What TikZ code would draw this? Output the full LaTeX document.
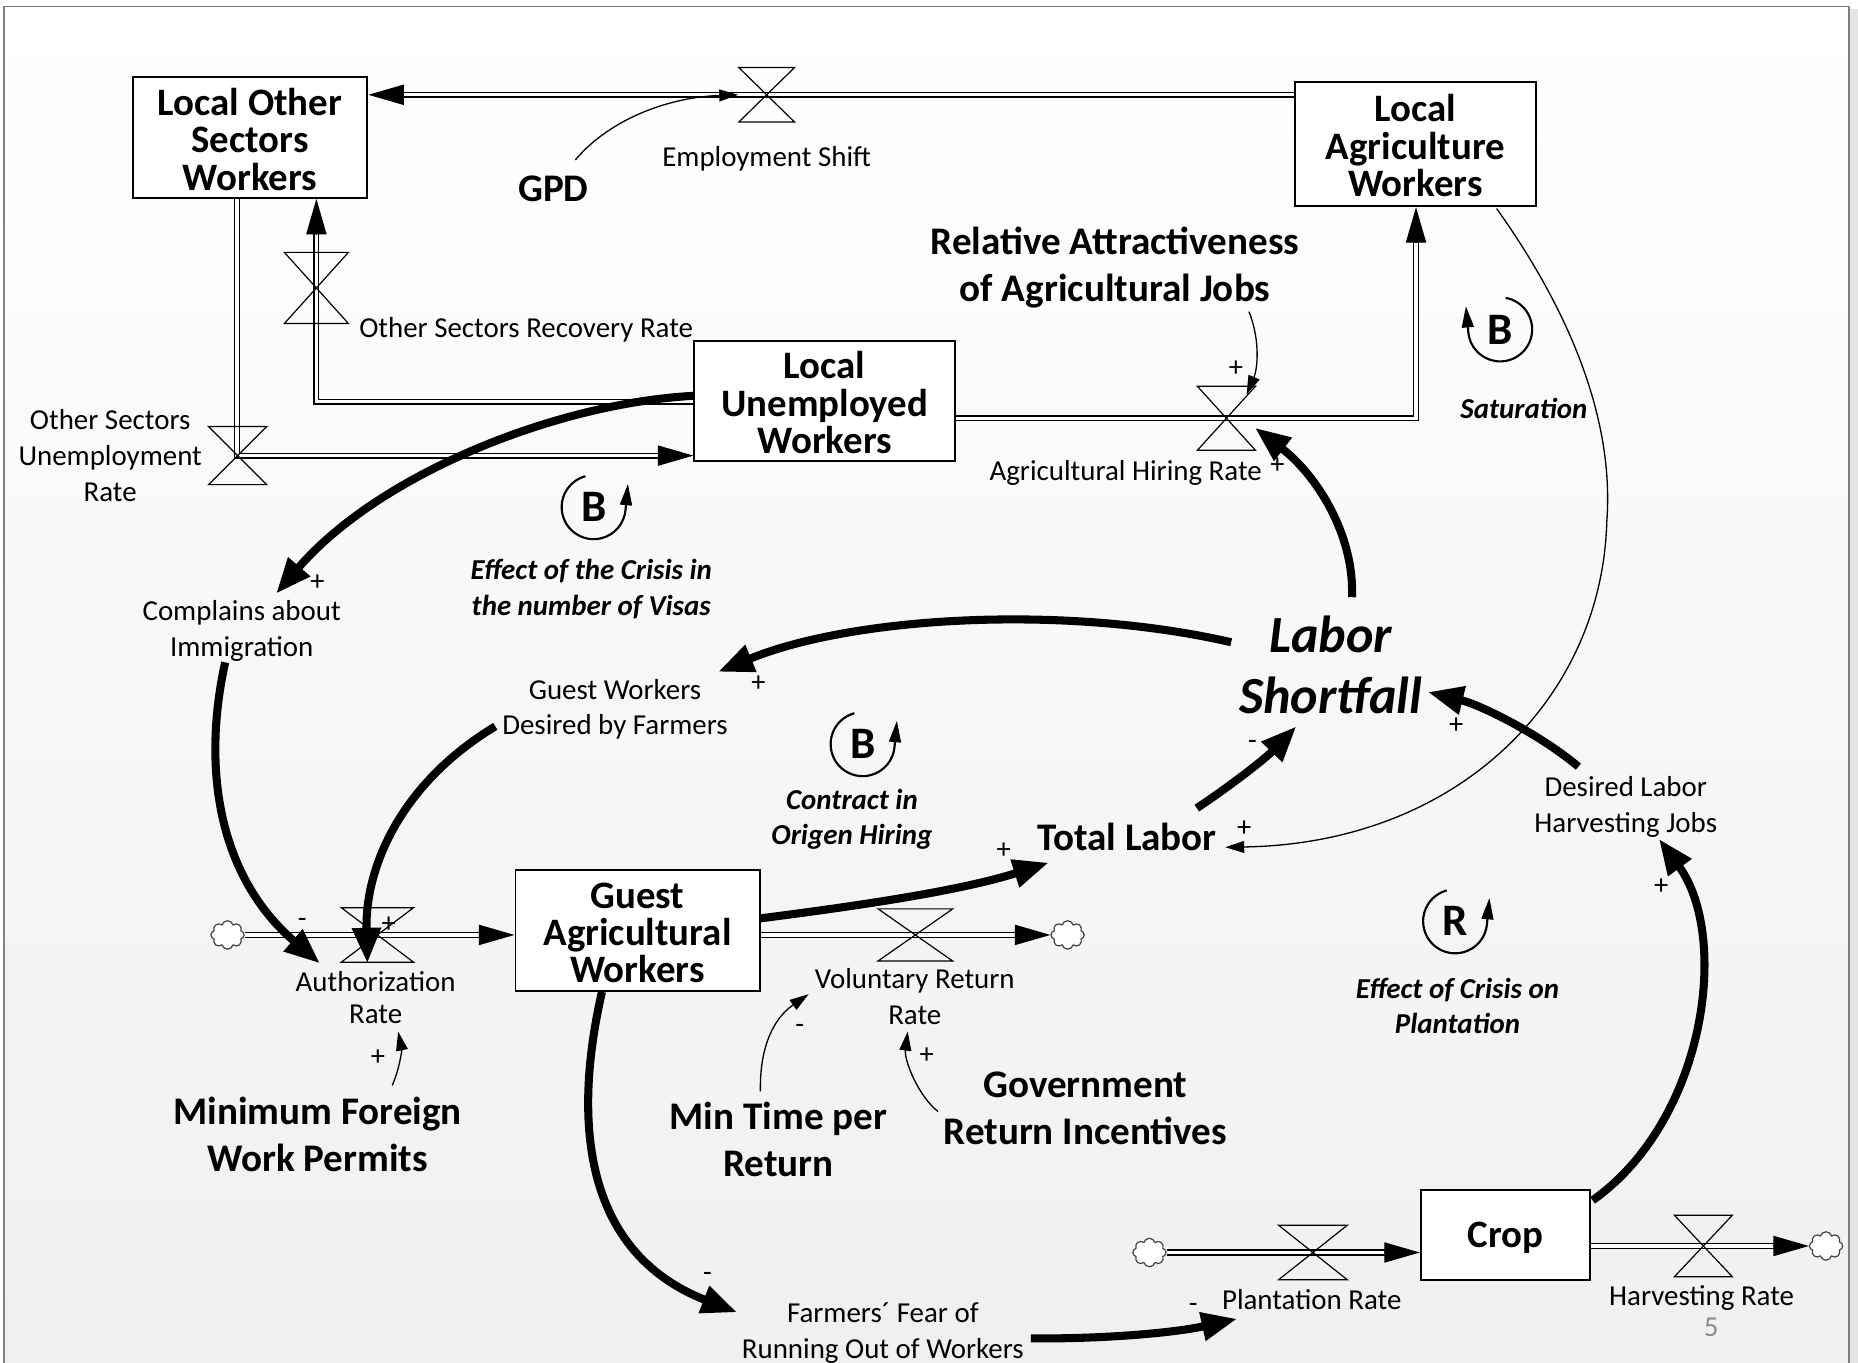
\documentclass[tikz,border=0pt]{standalone}
\usepackage{fontspec}
\setmainfont{Carlito}
\usetikzlibrary{arrows.meta,calc,shapes.symbols}
\pgfdeclarelayer{back}
\pgfdeclarelayer{pipes}
\pgfsetlayers{back,pipes,main}
\newcommand\fReg{\fontsize{12.2}{15}\selectfont}
\newcommand\fRegT{\fontsize{12.2}{13.5}\selectfont}
\newcommand\fStock{\bfseries\fontsize{16.4}{15.8}\selectfont}
\newcommand\fAux{\bfseries\fontsize{16.5}{19.8}\selectfont}
\newcommand\fShort{\bfseries\itshape\fontsize{22}{26}\selectfont}
\newcommand\fLoop{\bfseries\itshape\fontsize{12.2}{15}\selectfont}
\newcommand\fLetter{\bfseries\fontsize{19}{19}\selectfont}
\newcommand\fSign{\fontsize{12}{12}\selectfont}
\newcommand\stk{\rule{0pt}{13pt}}
\begin{document}
\begin{tikzpicture}[x=0.5pt,y=-0.5pt,
  stock/.style={draw, line width=0.8pt, fill=white, inner sep=0pt, align=center, font=\fStock},
  lab/.style={inner sep=0pt, align=center, font=\fReg},
  aux/.style={inner sep=0pt, align=center, font=\fAux},
  looplab/.style={inner sep=0pt, align=center, font=\fLoop},
  sgn/.style={inner sep=0pt, font=\fSign},
  pipe/.style={draw=black, line width=0.6pt, double=white, double distance=1.4pt},
  pipetip/.style={line width=0.6pt, -{Triangle[length=15pt,width=8.5pt]}},
  valvestyle/.style={draw=black, line width=0.5pt, line join=miter},
  link/.style={line width=3.4pt, -{Triangle[length=15pt,width=11.5pt]}},
  thinlink/.style={line width=0.55pt, -{Triangle[length=8pt,width=5pt]}},
  looparrow/.style={line width=0.9pt, -{Triangle[length=9pt,width=5pt]}},
  sink/.style={cloud, cloud puffs=8, draw=black!75, fill=white, line width=0.5pt, minimum width=14pt, minimum height=12pt, inner sep=0pt},
  pics/valve/.style args={#1/#2}{code={\draw[valvestyle] (-#1/2,-#2/2) -- (#1/2,-#2/2) -- (-#1/2,#2/2) -- (#1/2,#2/2) -- cycle;}}
]
\useasboundingbox (0,0) rectangle (1568,1150);
\begin{pgfonlayer}{back}
\fill[white] (0,0) rectangle (1568,1150);
\shade[top color=white, bottom color=black!6] (3.4,5.5) rectangle (1560.4,1150);
\fill[black!10] (1561.4,8) rectangle (1568,1150);
\draw[black!50, line width=0.7pt] (3.4,1152) -- (3.4,5.5) -- (1560.4,5.5) -- (1560.4,1152);
\end{pgfonlayer}

% stocks
\node[stock, minimum width=99pt, minimum height=51pt] (LOSW) at (211,116) {\stk Local Other\\Sectors\\Workers};
\node[stock, minimum width=101.5pt, minimum height=52.5pt] (LAW) at (1194.5,121.5) {\stk Local\\Agriculture\\Workers};
\node[stock, minimum width=110pt, minimum height=50.5pt] (LUW) at (696,338.5) {\stk Local\\Unemployed\\Workers};
\node[stock, minimum width=103pt, minimum height=51pt] (GAW) at (538,785) {\stk Guest\\Agricultural\\Workers};
\node[stock, minimum width=71.5pt, minimum height=38pt] (Crop) at (1270.5,1042) {\stk Crop};

% clouds
\node[sink] (cAR) at (192,789) {};
\node[sink] (cVRR) at (901,789) {};
\node[sink] (cPR) at (970,1057) {};
\node[sink] (cHR) at (1541,1051.5) {};

% valves
\coordinate (vES) at (647,80);
\coordinate (vOSUR) at (200.5,384.5);
\coordinate (vOSRR) at (267,243);
\coordinate (vAHR) at (1035,353);
\coordinate (vAR) at (318.5,789);
\coordinate (vVRR) at (772.5,789);
\coordinate (vPR) at (1108,1057);
\coordinate (vHR) at (1437.5,1051.5);

% labels
\node[lab] (ES) at (647,134) {Employment Shift};
\node[aux] (GPD) at (467,159) {GPD};
\node[lab] (OSRR) at (444,278) {Other Sectors Recovery Rate};
\node[lab] (OSUR) at (93,384.5) {Other Sectors\\Unemployment\\Rate};
\node[lab] (AHR) at (950,399) {Agricultural Hiring Rate};
\node[aux] (RAAJ) at (941,225.5) {Relative Attractiveness\\of Agricultural Jobs};
\node[looplab] (SAT) at (1286,345) {Saturation};
\node[looplab] (LV) at (499,497) {Effect of the Crisis in\\the number of Visas};
\node[lab] (CAI) at (204,532.5) {Complains about\\Immigration};
\node[font=\fShort, align=center, inner sep=0pt] (LS) at (1123,561) {Labor\\Shortfall};
\node[lab] (GWDF) at (519,598.5) {Guest Workers\\Desired by Farmers};
\node[looplab] (LC) at (719,691.5) {Contract in\\Origen Hiring};
\node[aux] (TL) at (951,706) {Total Labor};
\node[lab] (DLHJ) at (1372,681) {Desired Labor\\Harvesting Jobs};
\node[lab, font=\fRegT] (AR) at (317,842) {Authorization\\Rate};
\node[lab] (VRR) at (772,841) {Voluntary Return\\Rate};
\node[looplab] (LP) at (1230,849) {Effect of Crisis on\\Plantation};
\node[aux] (MFWP) at (268,957.5) {Minimum Foreign\\Work Permits};
\node[aux] (MTPR) at (657,961.5) {Min Time per\\Return};
\node[aux] (GRI) at (916,935) {Government\\Return Incentives};
\node[lab] (FFRW) at (745,1125) {Farmers´ Fear of\\Running Out of Workers};
\node[lab] (PR) at (1107,1097) {Plantation Rate};
\node[lab] (HR) at (1436,1095) {Harvesting Rate};
\node[lab, text=black!45] (pg) at (1444,1120) {5};

% pipes
\begin{pgfonlayer}{pipes}
\draw[pipe, shorten >=14pt] ($(LAW.west)+(0,-41.5)$) -- ($(LOSW.east)+(0,-36)$);
\draw[pipe, shorten >=14pt] ($(LOSW.south)+(-11,0)$) |- ($(LUW.west)+(0,46)$);
\draw[pipe, shorten >=14pt] ($(LUW.west)+(0,0.5)$) -| ($(LOSW.south)+(56,0)$);
\draw[pipe, shorten >=14pt] ($(LUW.east)+(0,14.5)$) -| ($(LAW.south)+(0.5,0)$);
\draw[pipe, shorten >=14pt] (cAR.east) -- ($(GAW.west)+(0,4)$);
\draw[pipe, shorten >=14pt] ($(GAW.east)+(0,4)$) -- (cVRR.west);
\draw[pipe, shorten >=14pt] (cPR.east) -- ($(Crop.west)+(0,15)$);
\draw[pipe, shorten >=14pt] ($(Crop.east)+(0,9.5)$) -- (cHR.west);
\end{pgfonlayer}
\draw[pipetip] ($(LOSW.east)+(30,-36)$) -- ($(LOSW.east)+(0,-36)$);
\draw[pipetip] ($(LUW.west)+(-30,46)$) -- ($(LUW.west)+(0,46)$);
\draw[pipetip] ($(LOSW.south)+(56,30)$) -- ($(LOSW.south)+(56,0)$);
\draw[pipetip] ($(LAW.south)+(0.5,30)$) -- ($(LAW.south)+(0.5,0)$);
\draw[pipetip] ($(GAW.west)+(-30,4)$) -- ($(GAW.west)+(0,4)$);
\draw[pipetip] ($(cVRR.west)+(-30,0)$) -- (cVRR.west);
\draw[pipetip] ($(Crop.west)+(-30,15)$) -- ($(Crop.west)+(0,15)$);
\draw[pipetip] ($(cHR.west)+(-30,0)$) -- (cHR.west);

\pic at (vES) {valve=47/46};
\pic at (vOSUR) {valve=49/49};
\pic at (vOSRR) {valve=54/60};
\pic at (vAHR) {valve=49/54};
\pic at (vAR) {valve=61/46};
\pic at (vVRR) {valve=63/44};
\pic at (vPR) {valve=58/46};
\pic at (vHR) {valve=49/52};

% thick causal links
\draw[link] ($(LUW.center)+(-110,-4.5)$) .. controls (470,340) and (320,400) .. ($(CAI.center)+(29,-31.5)$);
\draw[link] ($(CAI.center)+(-14,26.5)$) .. controls (170,650) and (185,740) .. ($(vAR)+(-48.5,24)$);
\draw[link] ($(GWDF.center)+(-101,14.5)$) .. controls (340,660) and (308,730) .. ($(vAR)+(-8.5,24)$);
\draw[link] ($(LS.center)+(-84,-19)$) .. controls (900,510) and (720,520) .. ($(GWDF.center)+(87,-31.5)$);
\draw[link] ($(LS.center)+(18,-57)$) .. controls (1143,450) and (1110,400) .. ($(vAHR)+(24,8)$);
\draw[link] ($(TL.center)+(59,-24)$) .. controls (1040,662) and (1068,640) .. ($(LS.center)+(-29,52)$);
\draw[link] ($(DLHJ.center)+(-40,-34)$) .. controls (1300,620) and (1250,595) .. ($(LS.center)+(82,23)$);
\draw[link] ($(GAW.east)+(0,-10)$) .. controls (720,765) and (810,752) .. ($(TL.center)+(-66,22)$);
\draw[link] ($(GAW.center)+(-30,52)$) .. controls (480,960) and (500,1060) .. ($(FFRW.center)+(-123,-17.5)$);
\draw[link] ($(FFRW.center)+(125,4.5)$) .. controls (930,1130) and (990,1125) .. ($(PR.center)+(-63,16)$);
\draw[link] ($(Crop.center)+(73.5,-29)$) .. controls (1440,945) and (1460,790) .. ($(DLHJ.center)+(28,27)$);

% thin links
\draw[thinlink] ($(GPD.center)+(18.5,-24)$) .. controls (515,100) and (565,82) .. ($(vES)+(-24,0)$);
\draw[thinlink] ($(RAAJ.center)+(113,37.5)$) .. controls (1064,288) and (1061,312) .. ($(vAHR)+(17,-20)$);
\draw[thinlink] ($(MFWP.center)+(63,-41.5)$) .. controls (338,900) and (339,885) .. ($(AR.center)+(19,28.6)$);
\draw[thinlink] ($(MTPR.center)+(-15.3,-40.5)$) .. controls (641,885) and (652,860) .. ($(VRR.center)+(-89.6,-2)$);
\draw[thinlink] ($(GRI.center)+(-124.4,3)$) .. controls (775,925) and (763,895) .. ($(VRR.center)+(-6,29.6)$);
\draw[thinlink] ($(LAW.center)+(68.5,54.5)$) .. controls (1330,270) and (1362,360) .. (1356,440) .. controls (1352,590) and (1230,712) .. ($(TL.center)+(83,9)$);

% loop markers
\node[font=\fLetter, inner sep=0pt] (B1) at (501,428) {B};
\begin{scope}[shift={(B1.center)}, yscale=-1]
\draw[looparrow] (105:27) arc[start angle=105, end angle=355, radius=27] -- ++(2,22);
\end{scope}
\node[font=\fLetter, inner sep=0pt] (B2) at (728,628) {B};
\begin{scope}[shift={(B2.center)}, yscale=-1]
\draw[looparrow] (105:27) arc[start angle=105, end angle=355, radius=27] -- ++(2,22);
\end{scope}
\node[font=\fLetter, inner sep=0pt] (B3) at (1266,278) {B};
\begin{scope}[shift={(B3.center)}, yscale=-1]
\draw[looparrow] (80:27) arc[start angle=80, end angle=-175, radius=27] -- ++(-2,22);
\end{scope}
\node[font=\fLetter, inner sep=0pt] (R1) at (1228,777.5) {R};
\begin{scope}[shift={(R1.center)}, yscale=-1]
\draw[looparrow] (105:27) arc[start angle=105, end angle=355, radius=27] -- ++(2,22);
\end{scope}

% polarity signs
\node[sgn] (s1) at (268,492) {+};
\node[sgn] (s2) at (255,779) {-};
\node[sgn] (s3) at (328,780) {+};
\node[sgn] (s4) at (640,577) {+};
\node[sgn] (s5) at (1043,311) {+};
\node[sgn] (s6) at (1078,393) {+};
\node[sgn] (s7) at (1057,629) {-};
\node[sgn] (s8) at (1229,612) {+};
\node[sgn] (s9) at (847,718) {+};
\node[sgn] (s10) at (1050,699) {+};
\node[sgn] (s11) at (1402,748) {+};
\node[sgn] (s12) at (597,1078) {-};
\node[sgn] (s13) at (675,868) {-};
\node[sgn] (s14) at (782,891) {+};
\node[sgn] (s15) at (319,893) {+};
\node[sgn] (s16) at (1007,1104) {-};
\end{tikzpicture}
\end{document}
